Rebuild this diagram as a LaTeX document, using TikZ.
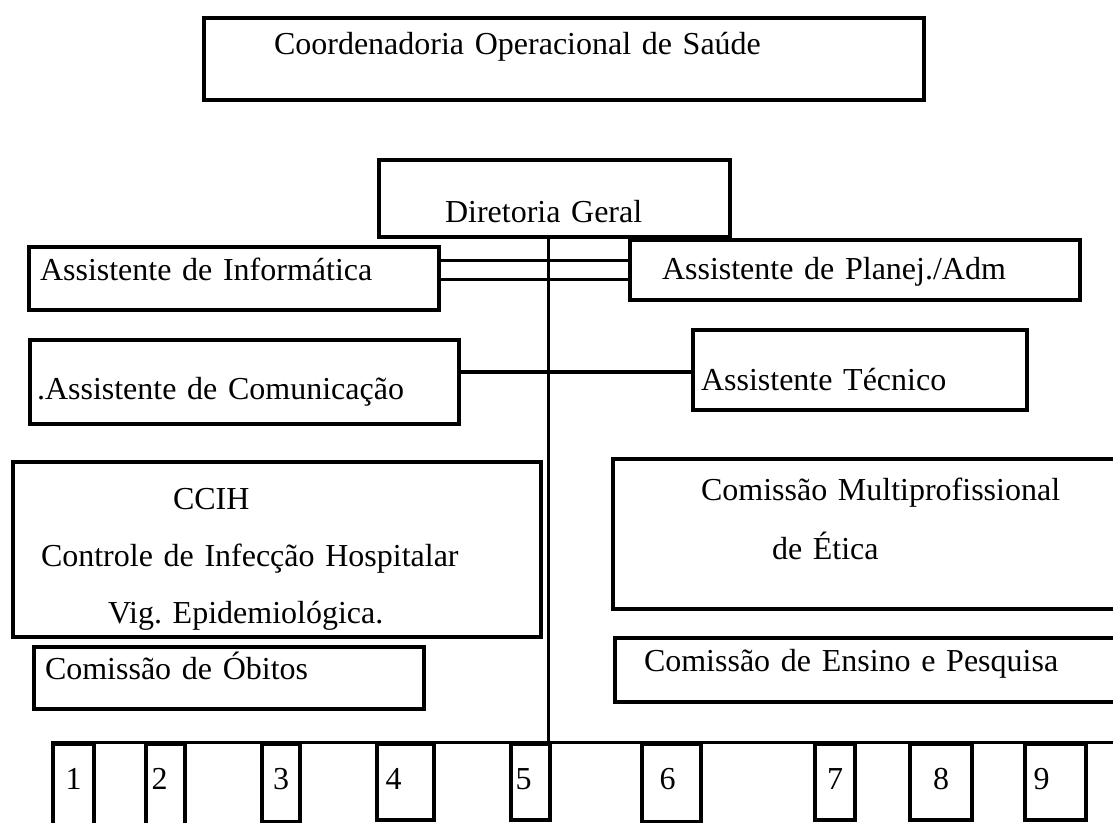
\documentclass[tikz,border=0pt]{standalone}
\usepackage{fontspec}
\setmainfont{Liberation Serif}
\usepackage{tikz}
\frenchspacing

\begin{document}
\begin{tikzpicture}[x=1pt, y=-1pt,
			unit/.style n args={4}{draw, line width=4pt, anchor=north west, align=left, inner ysep=0pt, inner xsep=#2pt,
				text width={(#1-2*#2)*1pt}, text height=#3pt, text depth=#4pt, font=\fontsize{32}{57}\selectfont},
			post/.style n args={2}{draw, line width=4pt, anchor=north west, inner sep=0pt, minimum width=#1pt,
				text height=45pt, text depth=#2pt, font=\fontsize{32}{38}\selectfont},
			link/.style={draw, line width=3pt}]
			\fill[white] (0,0) rectangle (1113,822);
			\useasboundingbox (0,0) rectangle (1113,822);

			\node[unit={720}{70}{36}{46}](coord) at (202, 16) {Coordenadoria Operacional de Saúde};

			\node[unit={351}{66}{62}{15}](dir) at (377, 158) {Diretoria Geral};

			\node[unit={410}{11}{33}{30}](info) at (27, 245) {Assistente de Informática};
			\node[unit={450}{32}{39}{21}](plan) at (628, 238) {Assistente de Planej./Adm};

			\node[unit={429}{7}{59}{25}](comu) at (28, 338) {.Assistente de Comunicação};
			\node[unit={334}{8}{60}{20}](tec) at (691, 328) {Assistente Técnico};

			\node[unit={528}{28}{47}{128}](ccih) at (11, 460) {\hspace*{132pt}CCIH\\Controle de Infecção Hospitalar\\\hspace*{67pt}Vig. Epidemiológica.};
			\node[unit={600}{88}{41}{109}](etica) at (611, 457) {Comissão Multiprofissional\\[2pt]\hspace*{71pt}de Ética};

			\node[unit={390}{11}{32}{30}](obitos) at (32, 645) {Comissão de Óbitos};
			\node[unit={600}{29}{33}{31}](ensino) at (613, 636) {Comissão de Ensino e Pesquisa};

			\foreach \n/\x/\w/\d/\s in {1/51/41/53/0, 2/144/39/53/12, 3/260/38/33/0, 4/375/57/31/24, 5/509/39/31/14,
				6/640/59/33/8, 7/813/40/31/0, 8/908/62/31/0, 9/1023/61/31/28}
				\node[post={\w}{\d}](u\n) at (\x, 742) {\n\hspace*{\s pt}};

			\coordinate (trunk) at (548, 742);
			\coordinate (barend) at (1120, 742);
			\coordinate (dbl1) at (0, 260);
			\coordinate (dbl2) at (0, 279);
			\coordinate (mid) at (0, 372);

			\draw[link] (dir.south -| trunk) -- (trunk);
			\draw[link] (u1.north west) -- (barend);
			\draw[link] (info.east |- dbl1) -- (plan.west |- dbl1);
			\draw[link] (info.east |- dbl2) -- (plan.west |- dbl2);
			\draw[link, line width=4.5pt] (comu.east |- mid) -- (tec.west |- mid);
			\end{tikzpicture}
\end{document}
